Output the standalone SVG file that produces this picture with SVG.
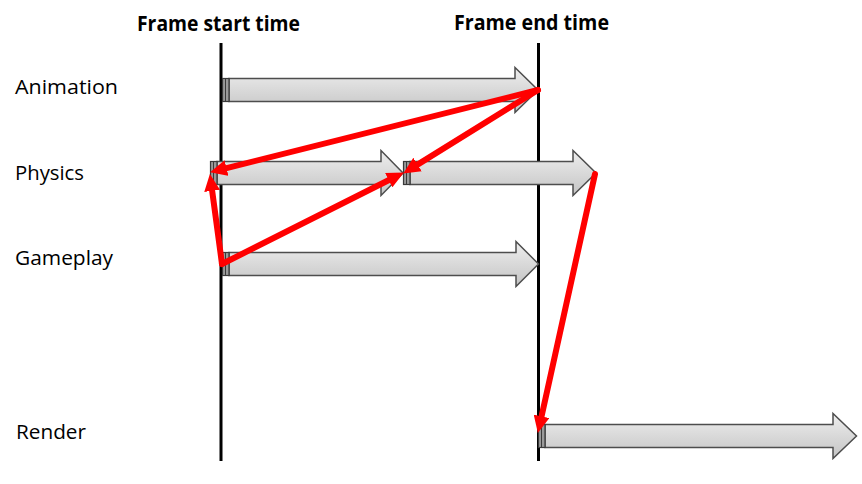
<svg xmlns="http://www.w3.org/2000/svg" width="862" height="484" viewBox="0 0 862 484">
  <style>
    .hdr { font-family: "Open Sans", "Liberation Sans", sans-serif; font-weight: bold; font-size: 21px; fill: #000; }
    .lbl { font-family: "Open Sans", "Liberation Sans", sans-serif; font-size: 20px; fill: #000; }
    .timeline { stroke: #000; stroke-width: 3; }
    .bar { fill: url(#barGrad); stroke: #4d4d4d; stroke-width: 1.5; stroke-linejoin: miter; }
    .cap { fill: #9a9a9a; stroke: #3a3a3a; stroke-width: 1.2; }
    .capline { stroke: #3a3a3a; stroke-width: 1; }
    .dep { stroke: #ff0000; stroke-width: 6; fill: none; stroke-linecap: round; marker-end: url(#redHead); }
  </style>
  <defs>
    <linearGradient id="barGrad" x1="0" y1="0" x2="0" y2="1">
      <stop offset="0" stop-color="#eeeeee"/>
      <stop offset="1" stop-color="#c4c4c4"/>
    </linearGradient>
    <marker id="redHead" markerUnits="userSpaceOnUse" viewBox="0 0 17 16" markerWidth="17" markerHeight="16" refX="2" refY="8" orient="auto">
      <path d="M0,0 L17,8 L0,16 Z" fill="#ff0000"/>
    </marker>
  </defs>
  <rect width="862" height="484" fill="#ffffff"/>

  <g id="headers">
    <text class="hdr" x="137" y="31" textLength="163" lengthAdjust="spacingAndGlyphs">Frame start time</text>
    <text class="hdr" x="454" y="30" textLength="155" lengthAdjust="spacingAndGlyphs">Frame end time</text>
  </g>

  <g id="timelines">
    <line class="timeline" x1="221" y1="43" x2="221" y2="461"/>
    <line class="timeline" x1="538.5" y1="43" x2="538.5" y2="461"/>
  </g>

  <g id="labels">
    <text class="lbl" x="15" y="94" textLength="103" lengthAdjust="spacingAndGlyphs">Animation</text>
    <text class="lbl" x="15" y="180" textLength="69" lengthAdjust="spacingAndGlyphs">Physics</text>
    <text class="lbl" x="15" y="265" textLength="98" lengthAdjust="spacingAndGlyphs">Gameplay</text>
    <text class="lbl" x="16" y="439" textLength="70" lengthAdjust="spacingAndGlyphs">Render</text>
  </g>

  <g id="animation-task">
    <path class="bar" d="M229,78.5 H515 V67.5 L538,90 L515,112.5 V101.5 H229 Z"/>
    <rect class="cap" x="222.5" y="78.5" width="6.5" height="23"/>
    <line class="capline" x1="225.5" y1="78.5" x2="225.5" y2="101.5"/>
  </g>

  <g id="physics-task-1">
    <path class="bar" d="M217,161.5 H381 V150.5 L403,173 L381,195.5 V184.5 H217 Z"/>
    <rect class="cap" x="210.5" y="161.5" width="6.5" height="23"/>
    <line class="capline" x1="213.5" y1="161.5" x2="213.5" y2="184.5"/>
  </g>

  <g id="physics-task-2">
    <path class="bar" d="M410,161.5 H573 V150.5 L596,173 L573,195.5 V184.5 H410 Z"/>
    <rect class="cap" x="403.5" y="161.5" width="6.5" height="23"/>
    <line class="capline" x1="406.5" y1="161.5" x2="406.5" y2="184.5"/>
  </g>

  <g id="gameplay-task">
    <path class="bar" d="M229,252.5 H516 V241.5 L538.5,264 L516,286.5 V275.5 H229 Z"/>
    <rect class="cap" x="222.5" y="252.5" width="6.5" height="23"/>
    <line class="capline" x1="225.5" y1="252.5" x2="225.5" y2="275.5"/>
  </g>

  <g id="render-task">
    <path class="bar" d="M545,424.5 H833 V413.5 L856.5,436 L833,458.5 V447.5 H545 Z"/>
    <rect class="cap" x="538.5" y="424.5" width="6.5" height="23"/>
    <line class="capline" x1="541.5" y1="424.5" x2="541.5" y2="447.5"/>
  </g>

  <g id="connectors">
    <line class="dep" x1="538" y1="90" x2="224.6" y2="168.6"/>
    <line class="dep" x1="538" y1="90" x2="415.9" y2="165.6"/>
    <line class="dep" x1="222" y1="264" x2="390.5" y2="179.3"/>
    <line class="dep" x1="222" y1="264" x2="211.9" y2="188.9"/>
    <line class="dep" x1="595" y1="174" x2="541.1" y2="418.3"/>
  </g>
</svg>
